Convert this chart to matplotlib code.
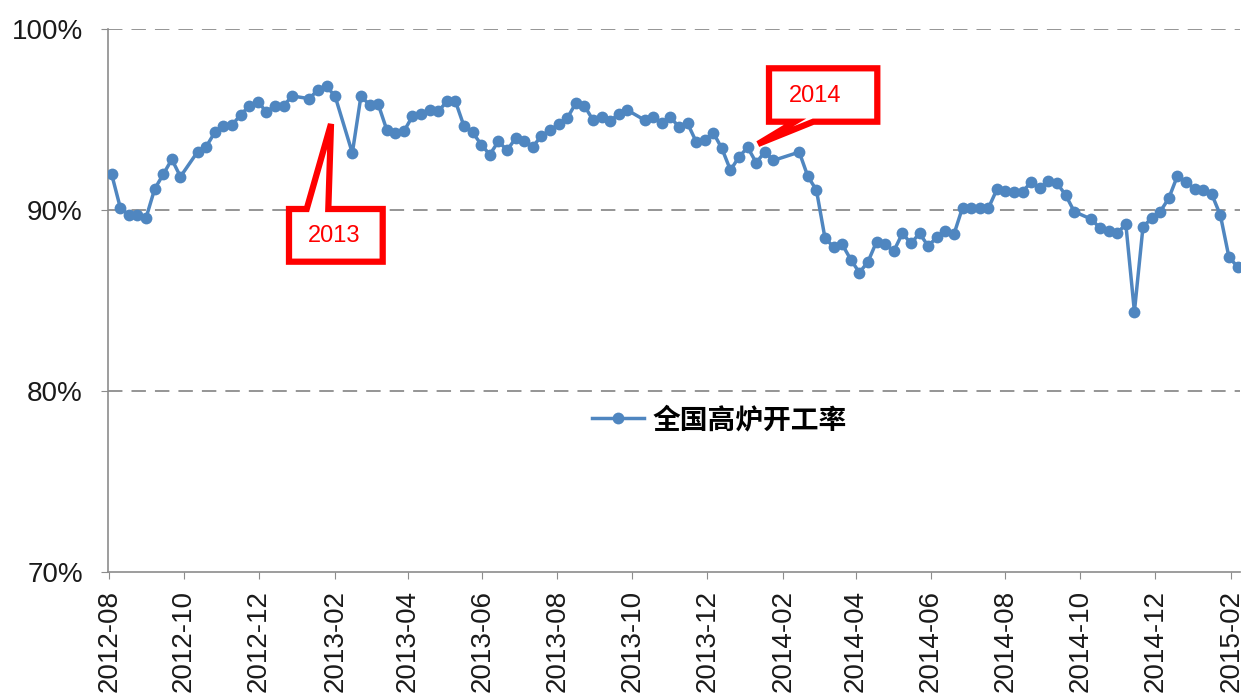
import matplotlib
matplotlib.use("Agg")
import matplotlib.pyplot as plt
import matplotlib.dates as mdates
from matplotlib.patches import Polygon
import pandas as pd

plt.rcParams['font.family'] = ['Liberation Sans', 'Noto Sans CJK SC', 'DejaVu Sans']

# weekly blast furnace operating rate (%)
dates = [
    "2012-08-03", "2012-08-10", "2012-08-17", "2012-08-24", "2012-08-31",
    "2012-09-07", "2012-09-14", "2012-09-21", "2012-09-28", "2012-10-12",
    "2012-10-19", "2012-10-26", "2012-11-02", "2012-11-09", "2012-11-16",
    "2012-11-23", "2012-11-30", "2012-12-07", "2012-12-14", "2012-12-21",
    "2012-12-28", "2013-01-11", "2013-01-18", "2013-01-25", "2013-02-01",
    "2013-02-15", "2013-02-22", "2013-03-01", "2013-03-08", "2013-03-15",
    "2013-03-22", "2013-03-29", "2013-04-05", "2013-04-12", "2013-04-19",
    "2013-04-26", "2013-05-03", "2013-05-10", "2013-05-17", "2013-05-24",
    "2013-05-31", "2013-06-07", "2013-06-14", "2013-06-21", "2013-06-28",
    "2013-07-05", "2013-07-12", "2013-07-19", "2013-07-26", "2013-08-02",
    "2013-08-09", "2013-08-16", "2013-08-23", "2013-08-30", "2013-09-06",
    "2013-09-13", "2013-09-20", "2013-09-27", "2013-10-11", "2013-10-18",
    "2013-10-25", "2013-11-01", "2013-11-08", "2013-11-15", "2013-11-22",
    "2013-11-29", "2013-12-06", "2013-12-13", "2013-12-20", "2013-12-27",
    "2014-01-03", "2014-01-10", "2014-01-17", "2014-01-24", "2014-02-14",
    "2014-02-21", "2014-02-28", "2014-03-07", "2014-03-14", "2014-03-21",
    "2014-03-28", "2014-04-04", "2014-04-11", "2014-04-18", "2014-04-25",
    "2014-05-02", "2014-05-09", "2014-05-16", "2014-05-23", "2014-05-30",
    "2014-06-06", "2014-06-13", "2014-06-20", "2014-06-27", "2014-07-04",
    "2014-07-11", "2014-07-18", "2014-07-25", "2014-08-01", "2014-08-08",
    "2014-08-15", "2014-08-22", "2014-08-29", "2014-09-05", "2014-09-12",
    "2014-09-19", "2014-09-26", "2014-10-10", "2014-10-17", "2014-10-24",
    "2014-10-31", "2014-11-07", "2014-11-14", "2014-11-21", "2014-11-28",
    "2014-12-05", "2014-12-12", "2014-12-19", "2014-12-26", "2015-01-02",
    "2015-01-09", "2015-01-16", "2015-01-23", "2015-01-30", "2015-02-06",
]
rate = [
    91.97, 90.13, 89.72, 89.72, 89.57,
    91.16, 91.97, 92.80, 91.84, 93.22,
    93.50, 94.29, 94.64, 94.70, 95.25,
    95.75, 95.98, 95.43, 95.75, 95.75,
    96.30, 96.15, 96.65, 96.83, 96.28,
    93.15, 96.28, 95.82, 95.86, 94.44,
    94.25, 94.35, 95.18, 95.32, 95.54,
    95.45, 96.00, 96.00, 94.62, 94.29,
    93.61, 93.06, 93.80, 93.30, 93.96,
    93.83, 93.50, 94.09, 94.42, 94.73,
    95.07, 95.90, 95.76, 94.97, 95.12,
    94.93, 95.29, 95.52, 94.97, 95.12,
    94.79, 95.12, 94.60, 94.79, 93.78,
    93.87, 94.27, 93.40, 92.20, 92.94,
    93.46, 92.61, 93.22, 92.74, 93.20,
    91.86, 91.10, 88.44, 87.96, 88.10,
    87.26, 86.54, 87.14, 88.25, 88.10,
    87.73, 88.71, 88.16, 88.71, 88.01,
    88.49, 88.86, 88.66, 90.13, 90.09,
    90.09, 90.09, 91.14, 91.05, 91.01,
    91.01, 91.56, 91.20, 91.60, 91.47,
    90.83, 89.91, 89.49, 88.99, 88.84,
    88.71, 89.23, 84.38, 89.08, 89.54,
    89.91, 90.65, 91.88, 91.56, 91.16,
    91.10, 90.87, 89.72, 87.39, 86.87,
]
series_name = "全国高炉开工率"
y_ticks = [70, 80, 90, 100]

W, H = 1246, 699
fig = plt.figure(figsize=(W / 100, H / 100), dpi=100)
ax = fig.add_axes([108 / W, 1 - 572 / H, (1240 - 108) / W, (572 - 29) / H])

x = pd.to_datetime(dates)
ax.plot(x, rate, color="#4F86C0", lw=2.5, marker="o", markersize=8.5,
        markeredgewidth=0, label=series_name, zorder=3)

ax.set_ylim(70, 100)
ax.set_yticks(y_ticks)
ax.set_yticklabels([f"{v}%" for v in y_ticks])
ax.set_xlim(pd.Timestamp("2012-07-31"), pd.Timestamp("2015-02-08"))
ax.xaxis.set_major_locator(mdates.MonthLocator(bymonth=[2, 4, 6, 8, 10, 12]))
ax.xaxis.set_major_formatter(mdates.DateFormatter("%Y-%m"))

for v in y_ticks[1:]:
    ax.axhline(v, color="#8c8c8c", lw=1.3, ls=(0, (8, 5)), zorder=1)

for s in ["top", "right"]:
    ax.spines[s].set_visible(False)
for s in ["left", "bottom"]:
    ax.spines[s].set_color("#8c8c8c")
    ax.spines[s].set_linewidth(1.2)

ax.tick_params(axis="y", length=5, color="#8c8c8c", pad=13, labelsize=20,
               labelcolor="#1a1a1a")
ax.tick_params(axis="x", length=5, color="#8c8c8c", pad=8, labelsize=20,
               labelcolor="#1a1a1a", labelrotation=90)

leg = ax.legend(loc="center", bbox_to_anchor=(0.54, 0.28), frameon=False,
                handlelength=1.9, handletextpad=0.3,
                prop={"family": ["Noto Sans CJK SC"], "weight": "bold", "size": 20})


def px(pts):
    # pixel coords (from top-left) to figure fraction
    return [(a / W, 1 - b / H) for a, b in pts]


call13 = [(289, 209), (306.7, 209), (331, 124), (328.3, 209), (382.7, 209),
          (382.7, 261.7), (289, 261.7)]
call14 = [(769, 68.3), (877.3, 68.3), (877.3, 121.7), (813.3, 121.7),
          (758, 144), (795, 121.7), (769, 121.7)]
for poly in (call13, call14):
    fig.patches.append(Polygon(px(poly), closed=True, transform=fig.transFigure,
                               facecolor="white", edgecolor="#ff0000", lw=4.5,
                               joinstyle="miter", zorder=5))

fig.text(334 / W, 1 - 236 / H, "2013", color="#ff0000", fontsize=17,
         ha="center", va="center", zorder=6)
fig.text(815 / W, 1 - 96 / H, "2014", color="#ff0000", fontsize=17,
         ha="center", va="center", zorder=6)

fig.savefig("out.png", dpi=100)
